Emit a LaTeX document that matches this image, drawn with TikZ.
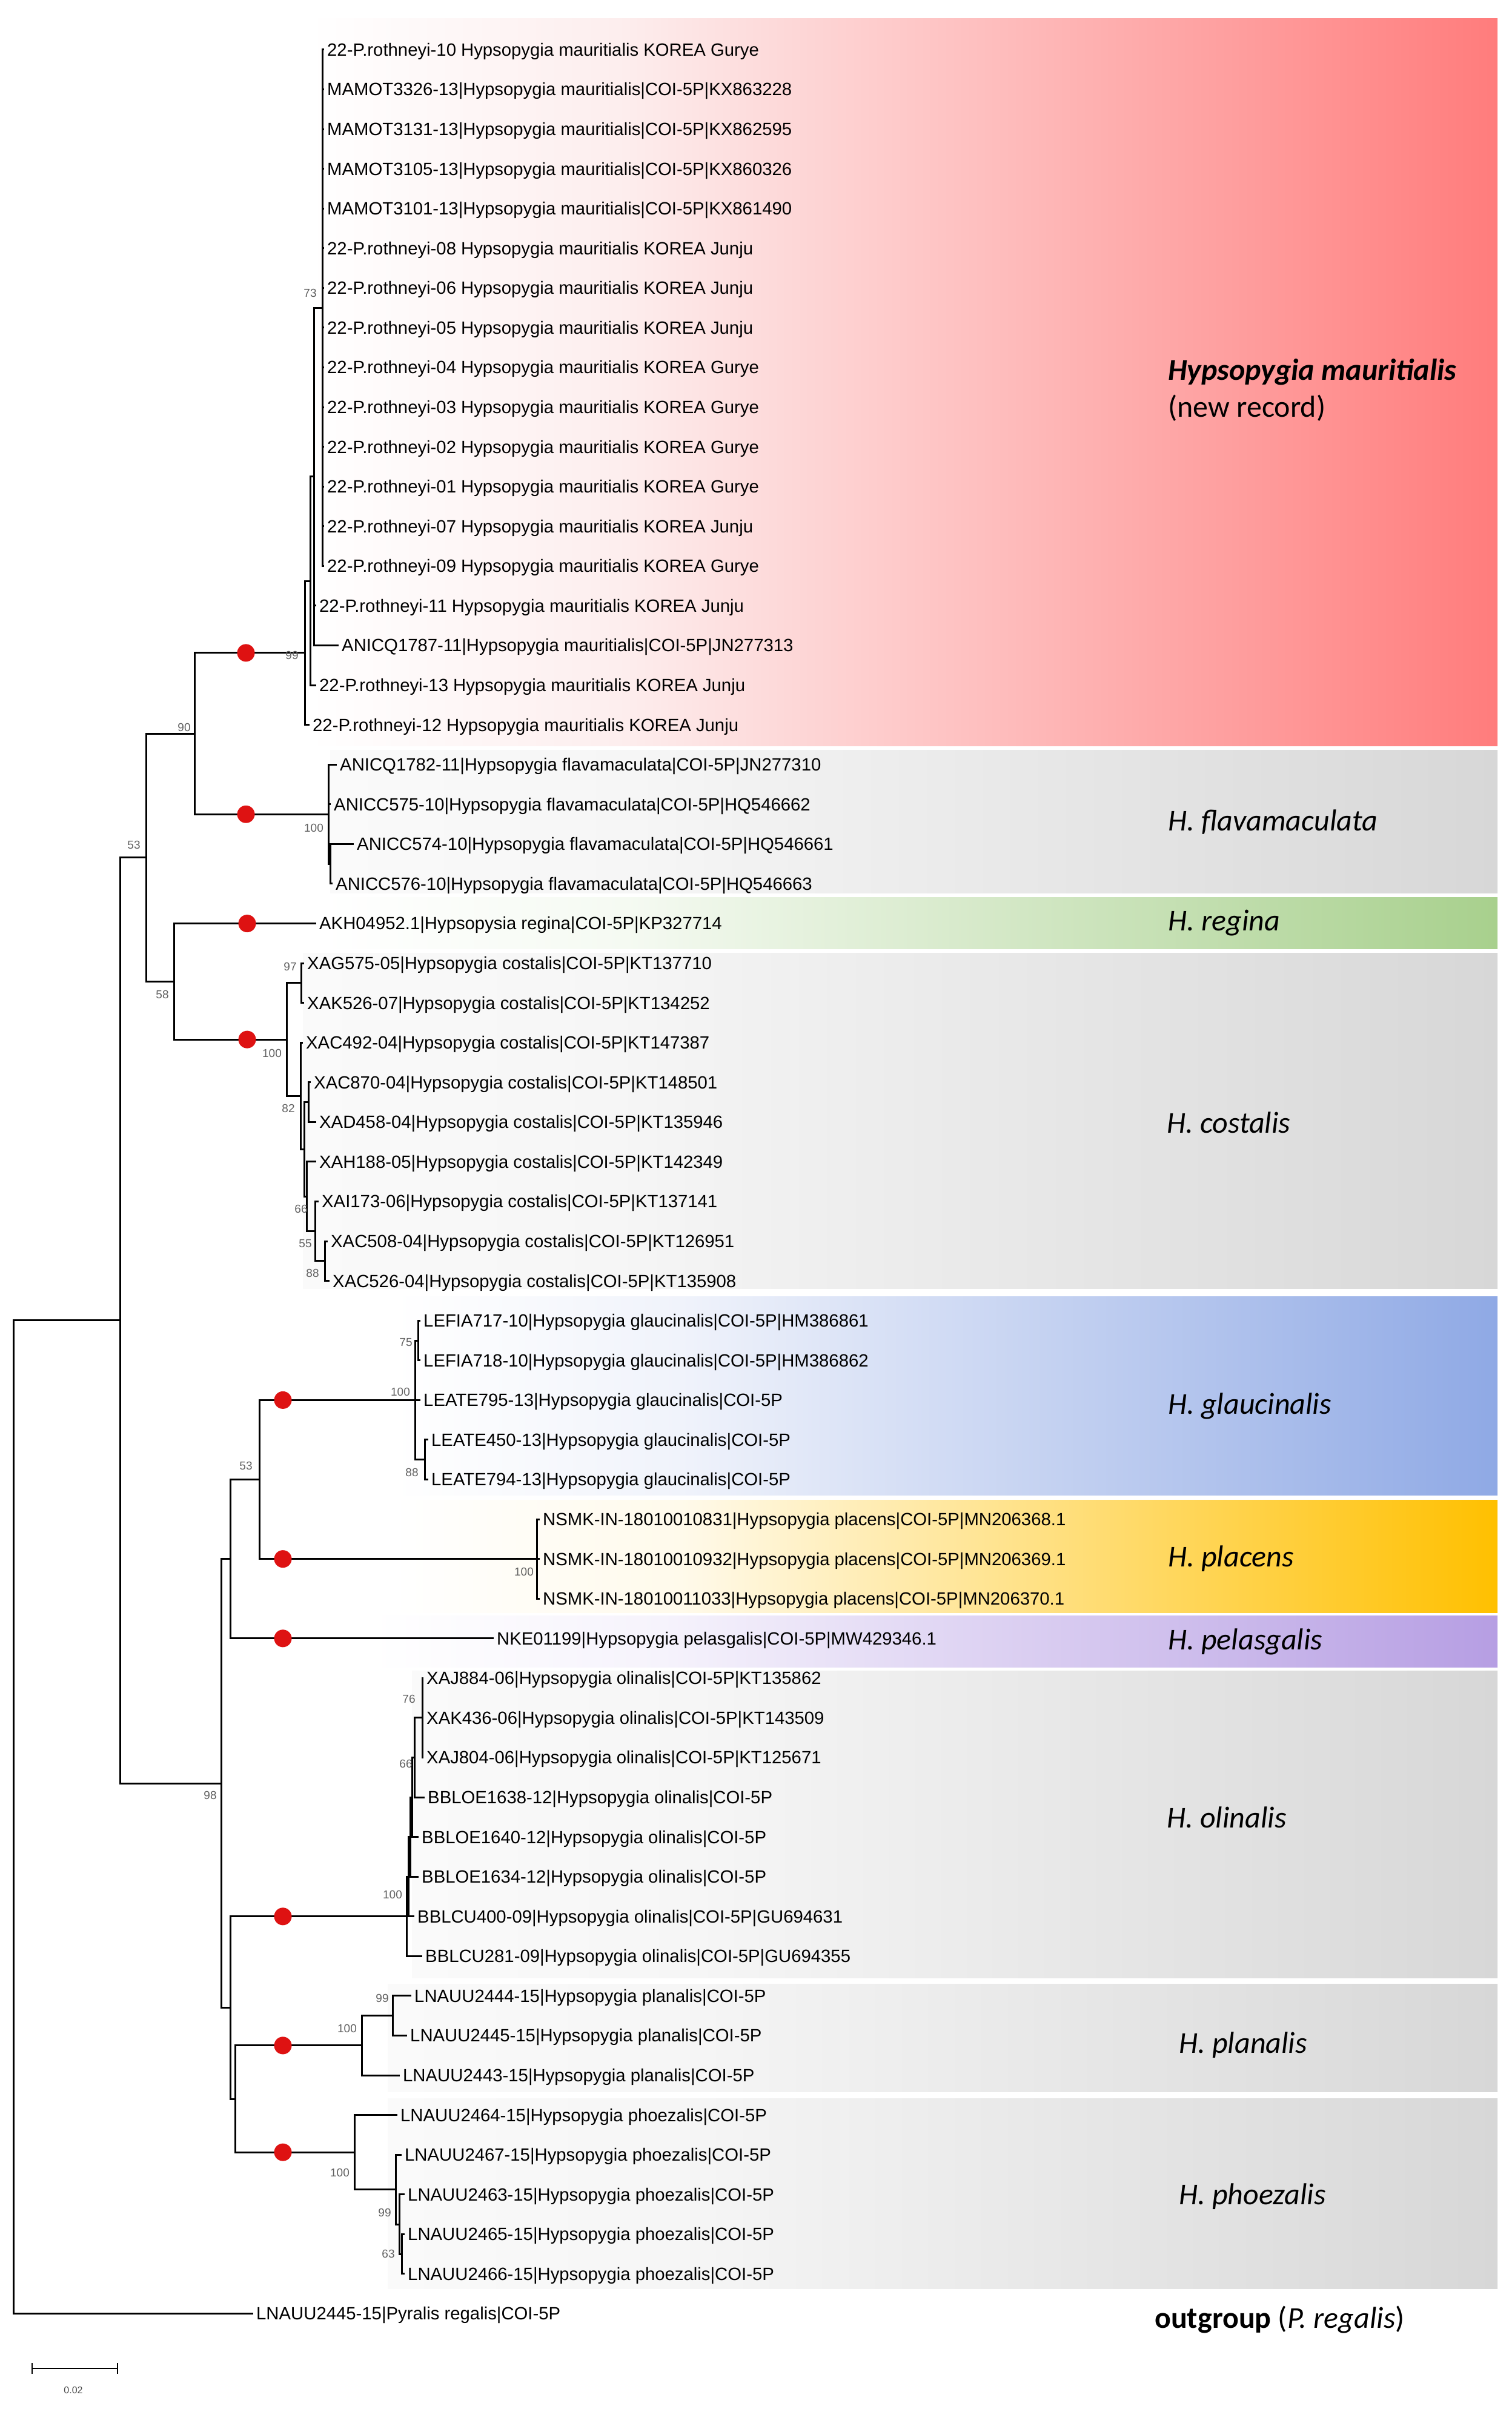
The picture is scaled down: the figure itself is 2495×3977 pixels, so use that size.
\documentclass[tikz,border=0pt]{standalone}
\usepackage{fontspec}
\setmainfont{Liberation Sans}
\newfontfamily\carl{Carlito}
\definecolor{redA}{RGB}{253,238,238}
\definecolor{redB}{RGB}{255,124,124}
\definecolor{grayA}{RGB}{250,250,250}
\definecolor{grayB}{RGB}{246,246,246}
\definecolor{grayC}{RGB}{215,215,215}
\definecolor{greenA}{RGB}{245,250,242}
\definecolor{greenB}{RGB}{168,208,141}
\definecolor{blueA}{RGB}{240,243,251}
\definecolor{blueB}{RGB}{143,169,229}
\definecolor{yelA}{RGB}{255,250,235}
\definecolor{yelB}{RGB}{255,192,0}
\definecolor{purA}{RGB}{246,243,252}
\definecolor{purB}{RGB}{182,158,227}
\definecolor{dotred}{RGB}{222,18,18}
\pgfdeclarehorizontalshading{shred}{100bp}{color(0bp)=(white); color(25bp)=(white); color(38bp)=(redA); color(75bp)=(redB); color(100bp)=(redB)}
\pgfdeclarehorizontalshading{shgray}{100bp}{color(0bp)=(grayA); color(25bp)=(grayA); color(38bp)=(grayB); color(75bp)=(grayC); color(100bp)=(grayC)}
\pgfdeclarehorizontalshading{shgreen}{100bp}{color(0bp)=(white); color(25bp)=(white); color(38bp)=(greenA); color(75bp)=(greenB); color(100bp)=(greenB)}
\pgfdeclarehorizontalshading{shblue}{100bp}{color(0bp)=(white); color(25bp)=(white); color(38bp)=(blueA); color(75bp)=(blueB); color(100bp)=(blueB)}
\pgfdeclarehorizontalshading{shyellow}{100bp}{color(0bp)=(white); color(25bp)=(white); color(38bp)=(yelA); color(75bp)=(yelB); color(100bp)=(yelB)}
\pgfdeclarehorizontalshading{shpurple}{100bp}{color(0bp)=(white); color(25bp)=(white); color(38bp)=(purA); color(75bp)=(purB); color(100bp)=(purB)}
% row position (row numbers may be fractional for internal nodes)
\newcommand\ry[1]{(82+65.57*((#1)-1))}
\newcommand\leafnode[4]{\node[leaf] (#1) at (#2,{\ry{#3}}) {#4}; \coordinate (#1t) at ([xshift=-7pt]#1.west);}
\newcommand\inode[3]{\coordinate (#1) at (#2,{\ry{#3}});}
\begin{document}
\begin{tikzpicture}[x=1pt,y=-1pt,
  leaf/.style={anchor=west,inner sep=0pt,text height=20.8pt,text depth=0pt,font=\fontsize{29.3}{30}\selectfont},
  br/.style={line width=3pt,line cap=rect,black},
  bs/.style={inner sep=0pt,font=\fontsize{19}{20}\selectfont,text=black!62},
  dot/.style={circle,fill=dotred,minimum size=29pt,inner sep=0pt},
  sp/.style={anchor=west,inner sep=0pt,text height=32pt,text depth=0pt,font=\carl\fontsize{50}{60}\selectfont},
  sbar/.style={line width=2.5pt,black}]
\useasboundingbox (0,0) rectangle (2495,3977);
\fill[white] (0,0) rectangle (2495,3977);
% clade bands
\shade[shading=shred] (510,31) rectangle (2472,1231);
\shade[shading=shgray] (545,1238) rectangle (2472,1474);
\shade[shading=shgreen] (530,1481) rectangle (2472,1566);
\shade[shading=shgray] (500,1573) rectangle (2472,2127);
\shade[shading=shblue] (650,2140) rectangle (2472,2468);
\shade[shading=shyellow] (650,2476) rectangle (2472,2662);
\shade[shading=shpurple] (610,2667) rectangle (2472,2752);
\shade[shading=shgray] (680,2758) rectangle (2472,3265);
\shade[shading=shgray] (640,3275) rectangle (2472,3453);
\shade[shading=shgray] (640,3464) rectangle (2472,3778);
% leaves
\leafnode{m1}{540}{1}{22-P.rothneyi-10 Hypsopygia mauritialis KOREA Gurye}
\leafnode{m2}{540}{2}{MAMOT3326-13|Hypsopygia mauritialis|COI-5P|KX863228}
\leafnode{m3}{540}{3}{MAMOT3131-13|Hypsopygia mauritialis|COI-5P|KX862595}
\leafnode{m4}{540}{4}{MAMOT3105-13|Hypsopygia mauritialis|COI-5P|KX860326}
\leafnode{m5}{540}{5}{MAMOT3101-13|Hypsopygia mauritialis|COI-5P|KX861490}
\leafnode{m6}{540}{6}{22-P.rothneyi-08 Hypsopygia mauritialis KOREA Junju}
\leafnode{m7}{540}{7}{22-P.rothneyi-06 Hypsopygia mauritialis KOREA Junju}
\leafnode{m8}{540}{8}{22-P.rothneyi-05 Hypsopygia mauritialis KOREA Junju}
\leafnode{m9}{540}{9}{22-P.rothneyi-04 Hypsopygia mauritialis KOREA Gurye}
\leafnode{m10}{540}{10}{22-P.rothneyi-03 Hypsopygia mauritialis KOREA Gurye}
\leafnode{m11}{540}{11}{22-P.rothneyi-02 Hypsopygia mauritialis KOREA Gurye}
\leafnode{m12}{540}{12}{22-P.rothneyi-01 Hypsopygia mauritialis KOREA Gurye}
\leafnode{m13}{540}{13}{22-P.rothneyi-07 Hypsopygia mauritialis KOREA Junju}
\leafnode{m14}{540}{14}{22-P.rothneyi-09 Hypsopygia mauritialis KOREA Gurye}
\leafnode{m15}{527}{15}{22-P.rothneyi-11 Hypsopygia mauritialis KOREA Junju}
\leafnode{m16}{564}{16}{ANICQ1787-11|Hypsopygia mauritialis|COI-5P|JN277313}
\leafnode{m17}{527}{17}{22-P.rothneyi-13 Hypsopygia mauritialis KOREA Junju}
\leafnode{m18}{516}{18}{22-P.rothneyi-12 Hypsopygia mauritialis KOREA Junju}
\leafnode{f1}{561}{19}{ANICQ1782-11|Hypsopygia flavamaculata|COI-5P|JN277310}
\leafnode{f2}{551}{20}{ANICC575-10|Hypsopygia flavamaculata|COI-5P|HQ546662}
\leafnode{f3}{589}{21}{ANICC574-10|Hypsopygia flavamaculata|COI-5P|HQ546661}
\leafnode{f4}{554}{22}{ANICC576-10|Hypsopygia flavamaculata|COI-5P|HQ546663}
\leafnode{rg}{527}{23}{AKH04952.1|Hypsopysia regina|COI-5P|KP327714}
\leafnode{c1}{507}{24}{XAG575-05|Hypsopygia costalis|COI-5P|KT137710}
\leafnode{c2}{507}{25}{XAK526-07|Hypsopygia costalis|COI-5P|KT134252}
\leafnode{c3}{505}{26}{XAC492-04|Hypsopygia costalis|COI-5P|KT147387}
\leafnode{c4}{518}{27}{XAC870-04|Hypsopygia costalis|COI-5P|KT148501}
\leafnode{c5}{527}{28}{XAD458-04|Hypsopygia costalis|COI-5P|KT135946}
\leafnode{c6}{527}{29}{XAH188-05|Hypsopygia costalis|COI-5P|KT142349}
\leafnode{c7}{531}{30}{XAI173-06|Hypsopygia costalis|COI-5P|KT137141}
\leafnode{c8}{546}{31}{XAC508-04|Hypsopygia costalis|COI-5P|KT126951}
\leafnode{c9}{549}{32}{XAC526-04|Hypsopygia costalis|COI-5P|KT135908}
\leafnode{g1}{699}{33}{LEFIA717-10|Hypsopygia glaucinalis|COI-5P|HM386861}
\leafnode{g2}{699}{34}{LEFIA718-10|Hypsopygia glaucinalis|COI-5P|HM386862}
\leafnode{g3}{699}{35}{LEATE795-13|Hypsopygia glaucinalis|COI-5P}
\leafnode{g4}{712}{36}{LEATE450-13|Hypsopygia glaucinalis|COI-5P}
\leafnode{g5}{712}{37}{LEATE794-13|Hypsopygia glaucinalis|COI-5P}
\leafnode{p1}{896}{38}{NSMK-IN-18010010831|Hypsopygia placens|COI-5P|MN206368.1}
\leafnode{p2}{896}{39}{NSMK-IN-18010010932|Hypsopygia placens|COI-5P|MN206369.1}
\leafnode{p3}{896}{40}{NSMK-IN-18010011033|Hypsopygia placens|COI-5P|MN206370.1}
\leafnode{pe}{820}{41}{NKE01199|Hypsopygia pelasgalis|COI-5P|MW429346.1}
\leafnode{o1}{704}{42}{XAJ884-06|Hypsopygia olinalis|COI-5P|KT135862}
\leafnode{o2}{704}{43}{XAK436-06|Hypsopygia olinalis|COI-5P|KT143509}
\leafnode{o3}{704}{44}{XAJ804-06|Hypsopygia olinalis|COI-5P|KT125671}
\leafnode{o4}{706}{45}{BBLOE1638-12|Hypsopygia olinalis|COI-5P}
\leafnode{o5}{696}{46}{BBLOE1640-12|Hypsopygia olinalis|COI-5P}
\leafnode{o6}{696}{47}{BBLOE1634-12|Hypsopygia olinalis|COI-5P}
\leafnode{o7}{689}{48}{BBLCU400-09|Hypsopygia olinalis|COI-5P|GU694631}
\leafnode{o8}{702}{49}{BBLCU281-09|Hypsopygia olinalis|COI-5P|GU694355}
\leafnode{pl1}{684}{50}{LNAUU2444-15|Hypsopygia planalis|COI-5P}
\leafnode{pl2}{677}{51}{LNAUU2445-15|Hypsopygia planalis|COI-5P}
\leafnode{pl3}{665}{52}{LNAUU2443-15|Hypsopygia planalis|COI-5P}
\leafnode{ph1}{661}{53}{LNAUU2464-15|Hypsopygia phoezalis|COI-5P}
\leafnode{ph2}{668}{54}{LNAUU2467-15|Hypsopygia phoezalis|COI-5P}
\leafnode{ph3}{673}{55}{LNAUU2463-15|Hypsopygia phoezalis|COI-5P}
\leafnode{ph4}{673}{56}{LNAUU2465-15|Hypsopygia phoezalis|COI-5P}
\leafnode{ph5}{673}{57}{LNAUU2466-15|Hypsopygia phoezalis|COI-5P}
\leafnode{og}{423}{58}{LNAUU2445-15|Pyralis regalis|COI-5P}
% internal nodes (x, fractional row)
\inode{M4}{532}{7.5}
\inode{S}{518}{11.75}
\inode{Q}{512}{14.375}
\inode{P}{503}{16.1875}
\inode{F2}{545}{21.5}
\inode{F}{542}{20.25}
\inode{N90}{321}{18.21875}
\inode{K97}{497}{24.5}
\inode{K4}{509}{27.5}
\inode{K7}{536}{31.5}
\inode{K6}{520}{30.75}
\inode{K5}{506}{29.875}
\inode{K3}{502}{28.6875}
\inode{K2}{496}{27.34375}
\inode{K}{473}{25.921875}
\inode{R58}{287}{24.4609}
\inode{B}{241}{21.3398}
\inode{G1}{690}{33.5}
\inode{G2}{701}{36.5}
\inode{G}{685}{35}
\inode{PC}{886}{39}
\inode{N53}{428}{37}
\inode{E}{380}{39}
\inode{O1}{697}{43}
\inode{Oa}{684}{44}
\inode{Ob}{680}{45}
\inode{Oc}{677}{46}
\inode{Od}{674}{47}
\inode{O}{671}{48}
\inode{PL1}{648}{50.5}
\inode{PL}{597}{51.25}
\inode{PH3}{663}{56.5}
\inode{PH2}{659}{55.75}
\inode{PH1}{653}{54.875}
\inode{PH}{585}{53.9375}
\inode{F2n}{388}{52.59375}
\inode{Fn}{380}{50.296875}
\inode{D}{365}{44.6484}
\inode{A}{198}{32.9941}
\inode{Root}{22}{45.497}
% branches
\foreach \c in {m1t,m2t,m3t,m4t,m5t,m6t,m7t,m8t,m9t,m10t,m11t,m12t,m13t,m14t} \draw[br] (M4) |- (\c);
\foreach \p/\c in {S/M4,S/m15t,S/m16t,Q/S,Q/m17t,P/Q,P/m18t,
  F2/f3t,F2/f4t,F/f1t,F/f2t,F/F2,N90/P,N90/F,R58/rgt,R58/K,
  K97/c1t,K97/c2t,K4/c4t,K4/c5t,K7/c8t,K7/c9t,K6/c7t,K6/K7,K5/c6t,K5/K6,K3/K4,K3/K5,K2/c3t,K2/K3,K/K97,K/K2,
  B/N90,B/R58,G1/g1t,G1/g2t,G2/g4t,G2/g5t,G/G1,G/g3t,G/G2,PC/p1t,PC/p2t,PC/p3t,N53/G,N53/PC,E/N53,E/pet,
  O1/o1t,O1/o2t,O1/o3t,Oa/O1,Oa/o4t,Ob/Oa,Ob/o5t,Oc/Ob,Oc/o6t,Od/Oc,Od/o7t,O/Od,O/o8t,
  PL1/pl1t,PL1/pl2t,PL/PL1,PL/pl3t,PH3/ph4t,PH3/ph5t,PH2/ph3t,PH2/PH3,PH1/ph2t,PH1/PH2,PH/ph1t,PH/PH1,
  F2n/PL,F2n/PH,Fn/O,Fn/F2n,D/E,D/Fn,A/B,A/D,Root/A,Root/ogt} \draw[br] (\p) |- (\c);
% red dots on the clade branches
\node[dot] (d1) at (406,0 |- P) {};
\node[dot] (d2) at (406,0 |- F) {};
\node[dot] (d3) at (408,0 |- rg) {};
\node[dot] (d4) at (408,0 |- K) {};
\node[dot] (d5) at (467,0 |- G) {};
\node[dot] (d6) at (467,0 |- PC) {};
\node[dot] (d7) at (467,0 |- pe) {};
\node[dot] (d8) at (467,0 |- O) {};
\node[dot] (d9) at (467,0 |- PL) {};
\node[dot] (d10) at (467,0 |- PH) {};
% bootstrap values
\begin{scope}[yscale=0.99726]
\node[bs] (b1) at (512,485) {73};
\node[bs] (b2) at (482,1085) {99};
\node[bs] (b3) at (304,1204) {90};
\node[bs] (b4) at (518,1371) {100};
\node[bs] (b5) at (221,1399) {53};
\node[bs] (b6) at (479,1600) {97};
\node[bs] (b7) at (268,1646) {58};
\node[bs] (b8) at (449,1744) {100};
\node[bs] (b9) at (476,1835) {82};
\node[bs] (b10) at (497,2001) {66};
\node[bs] (b11) at (504,2059) {55};
\node[bs] (b12) at (516,2108) {88};
\node[bs] (b13) at (670,2222) {75};
\node[bs] (b14) at (661,2304) {100};
\node[bs] (b15) at (680,2438) {88};
\node[bs] (b16) at (406,2427) {53};
\node[bs] (b17) at (865,2602) {100};
\node[bs] (b18) at (675,2813) {76};
\node[bs] (b19) at (670,2920) {66};
\node[bs] (b20) at (347,2972) {98};
\node[bs] (b21) at (648,3137) {100};
\node[bs] (b22) at (631,3308) {99};
\node[bs] (b23) at (573,3358) {100};
\node[bs] (b24) at (561,3597) {100};
\node[bs] (b25) at (635,3663) {99};
\node[bs] (b26) at (641,3731) {63};
\end{scope}
% species labels
\node[sp] (s1) at (1928,611) {\bfseries\itshape Hypsopygia mauritialis};
\node[sp] (s1b) at (1928,672) {(new record)};
\node[sp] (s2) at (1928,1355) {\itshape H. flavamaculata};
\node[sp] (s3) at (1928,1520) {\itshape H. regina};
\node[sp] (s4) at (1926,1854) {\itshape H. costalis};
\node[sp] (s5) at (1928,2318) {\itshape H. glaucinalis};
\node[sp] (s6) at (1928,2570) {\itshape H. placens};
\node[sp] (s7) at (1928,2707) {\itshape H. pelasgalis};
\node[sp] (s8) at (1926,3001) {\itshape H. olinalis};
\node[sp] (s9) at (1946,3373) {\itshape H. planalis};
\node[sp] (s10) at (1946,3623) {\itshape H. phoezalis};
\node[sp] (s11) at (1906,3827) {\bfseries outgroup\mdseries{} (\textit{P. regalis})};
% scale bar
\coordinate (sb1) at (53,3910);
\coordinate (sb2) at (194,3910);
\draw[sbar] (sb1) -- (sb2);
\draw[sbar] ([yshift=-9pt]sb1) -- ([yshift=9pt]sb1);
\draw[sbar] ([yshift=-9pt]sb2) -- ([yshift=9pt]sb2);
\node[bs,text=black!70,font=\fontsize{16}{18}\selectfont] (sbl) at (121,3946) {0.02};
\end{tikzpicture}
\end{document}
